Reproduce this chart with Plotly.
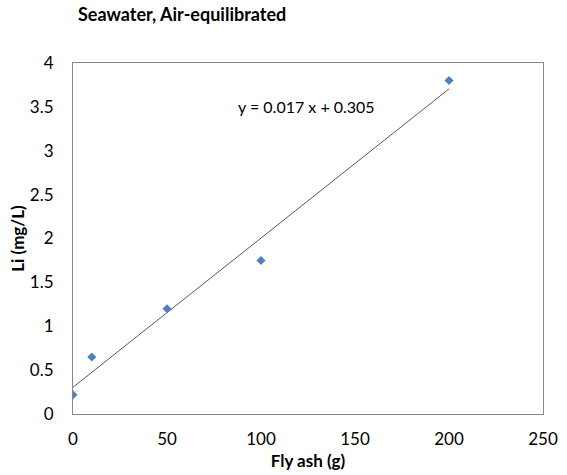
import plotly.graph_objects as go

fly_ash = [0, 10, 50, 100, 200]
li = [0.22, 0.65, 1.2, 1.75, 3.8]
slope = 0.017
intercept = 0.305
fit_x = [0, 200]
fit_y = [slope * x + intercept for x in fit_x]
x_ticks = [0, 50, 100, 150, 200, 250]
y_ticks = [0, 0.5, 1, 1.5, 2, 2.5, 3, 3.5, 4]
y_tick_text = ["0", "0.5", "1", "1.5", "2", "2.5", "3", "3.5", "4"]

font = "Lato, Open Sans, sans-serif"
W, H = 567, 475

fig = go.Figure()
fig.add_trace(go.Scatter(x=fit_x, y=fit_y, mode="lines",
                         line=dict(color="#595959", width=1), showlegend=False))
fig.add_trace(go.Scatter(x=fly_ash, y=li, mode="markers",
                         marker=dict(symbol="diamond", size=7, color="#4F81BD"),
                         showlegend=False))
fig.add_annotation(x=124, y=3.51, text="y = 0.017 x + 0.305", showarrow=False,
                   font=dict(family=font, size=16, color="#000000"))
fig.update_layout(
    width=W, height=H,
    margin=dict(l=73, r=24, t=63, b=61),
    paper_bgcolor="white", plot_bgcolor="white",
    font=dict(family=font, size=17, color="#000000"),
    title=dict(text="<b>Seawater, Air-equilibrated</b>", x=78 / W, xanchor="left",
               y=1 - 15 / H, yanchor="middle", font=dict(size=18)),
    xaxis=dict(range=[0, 250], tickvals=x_ticks, showgrid=False, zeroline=False,
               showline=True, mirror=True, linecolor="#868686", linewidth=1,
               ticks="", ticklabelstandoff=10, automargin=False,
               title=dict(text="<b>Fly ash (g)</b>", font=dict(size=17), standoff=6)),
    yaxis=dict(range=[0, 4], tickvals=y_ticks, ticktext=y_tick_text, showgrid=False,
               zeroline=False, showline=True, mirror=True, linecolor="#868686",
               linewidth=1, ticks="", ticklabelstandoff=15, automargin=False,
               title=dict(text="<b>Li (mg/L)</b>", font=dict(size=17), standoff=0)),
)
fig.write_html("out.html", config={"displayModeBar": False},
               post_script="document.body.style.margin='0';")
